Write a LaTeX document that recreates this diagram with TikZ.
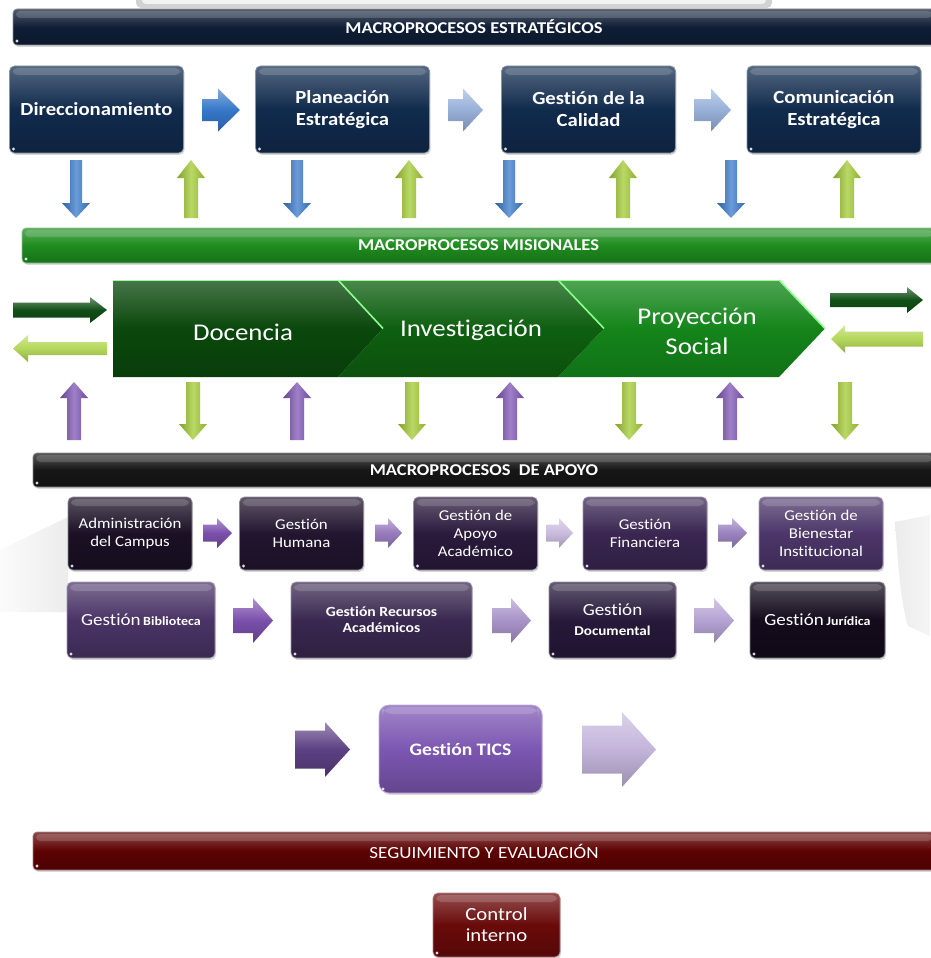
\documentclass[tikz,border=0pt]{standalone}
\usepackage{fontspec}
\setmainfont{Carlito}[FakeStretch=1.12, Ligatures=NoCommon]
\usetikzlibrary{shadows}
\definecolor{navy}{HTML}{112B4D}
\definecolor{stratB}{HTML}{0F1E36}
\definecolor{misB}{HTML}{1E8C1E}
\definecolor{apoB}{HTML}{161616}
\definecolor{segB}{HTML}{5E0202}
\definecolor{chevA}{HTML}{0A480C}
\definecolor{chevB}{HTML}{0E5F10}
\definecolor{chevC}{HTML}{14851A}
\definecolor{blueA}{HTML}{3577C8}
\definecolor{blueL}{HTML}{97B0D8}
\definecolor{blueV}{HTML}{3A7ACC}
\definecolor{greenV}{HTML}{A2CA34}
\definecolor{purpV}{HTML}{7E55B5}
\definecolor{dgA}{HTML}{114F16}
\definecolor{lgA}{HTML}{B4D75A}
\definecolor{cAdm}{HTML}{1B1025}
\definecolor{cHum}{HTML}{22152F}
\definecolor{cApo}{HTML}{2A1A3C}
\definecolor{cFin}{HTML}{3A2651}
\definecolor{cBie}{HTML}{4C3669}
\definecolor{cBib}{HTML}{4A3466}
\definecolor{cRec}{HTML}{3A2850}
\definecolor{cDoc}{HTML}{26193A}
\definecolor{cJur}{HTML}{140B1C}
\definecolor{aOne}{HTML}{7B50AD}
\definecolor{aTwo}{HTML}{977BBD}
\definecolor{aThree}{HTML}{C9BCDD}
\definecolor{aFour}{HTML}{9B83C0}
\definecolor{bOne}{HTML}{7A4FAB}
\definecolor{bTwo}{HTML}{A893C9}
\definecolor{bThree}{HTML}{B4A2D3}
\definecolor{ticsC}{HTML}{7C57B2}
\definecolor{ticsL}{HTML}{5C4083}
\definecolor{ticsR}{HTML}{C3B4DA}
\definecolor{ctrlC}{HTML}{6A0A0A}
\newcommand\myfs[2]{\fontsize{#1}{#2}\selectfont}
\newcommand\myharrow[7]{\path[#7] ({#1},{#3-#4}) -- ({#2-(#6)},{#3-#4}) -- ({#2-(#6)},{#3-#5}) -- ({#2},{#3}) -- ({#2-(#6)},{#3+#5}) -- ({#2-(#6)},{#3+#4}) -- ({#1},{#3+#4}) -- cycle;}
\newcommand\myvarrow[7]{\path[#7] ({#3-#4},{#1}) -- ({#3-#4},{#2-(#6)}) -- ({#3-#5},{#2-(#6)}) -- ({#3},{#2}) -- ({#3+#5},{#2-(#6)}) -- ({#3+#4},{#2-(#6)}) -- ({#3+#4},{#1}) -- cycle;}
\tikzset{
  basebox/.style={rounded corners=5pt, align=center, text=white, inner sep=2pt,
    draw=#1!50!white, line width=0.7pt,
    drop shadow={shadow xshift=1.2pt, shadow yshift=-1.8pt, opacity=.3},
    top color=#1!72!white, bottom color=#1!80!black, middle color=#1},
  gloss/.style={path picture={
    \fill[white,opacity=.16] ([xshift=3pt,yshift=-2pt]path picture bounding box.north west) rectangle ([xshift=-3pt,yshift=-9pt]path picture bounding box.north east);
    \fill[white,opacity=.85] ([xshift=4pt,yshift=4pt]path picture bounding box.south west) circle (1.6pt);}},
  banner/.style={basebox=#1, gloss, rounded corners=4pt, font=\bfseries\myfs{16.5}{20}},
  harr/.style={top color=#1!60!white, bottom color=#1!80!black, middle color=#1},
  varr/.style={left color=#1!80!black, right color=#1!88!black, middle color=#1!75!white},
  chev/.style={top color=#1!75!white, bottom color=#1!85!black, middle color=#1},
  chevhl/.style={draw=green!45!white, line width=1.6pt},
  chevtext/.style={text=white, font=\myfs{24}{30}, align=center},
  bigbox/.style={basebox=#1, gloss, minimum width=174pt, minimum height=87pt, font=\bfseries\myfs{18.5}{22}},
  smallbox/.style={basebox=#1, gloss, minimum width=124pt, minimum height=73pt, font=\myfs{15}{18}},
  midbox/.style={basebox=#1, gloss, minimum height=76pt},
}
\begin{document}
\begin{tikzpicture}[x=1pt,y=-1pt]
\useasboundingbox (0,0) rectangle (930,958);
\fill[white] (0,0) rectangle (930,958);
% faint background shapes
\fill[gray!35, rounded corners=5pt] (136,-10) rectangle (772,8);
\fill[gray!10, rounded corners=4pt] (142,-10) rectangle (766,4);
\shade[left color=gray!3, right color=gray!15] (0,550) -- (68,517) -- (68,612) -- (0,612) -- cycle;
\shade[left color=gray!15, right color=gray!8] (895,522) -- (930,515) -- (930,636) -- (908,626) .. controls (900,600) and (898,560) .. (895,522) -- cycle;

% strategic
\node[banner=stratB, minimum width=922pt, minimum height=36pt] (bstrat) at (474,27) {MACROPROCESOS ESTRATÉGICOS};
\node[bigbox=navy] (dir) at (96.5,109.5) {Direccionamiento};
\node[bigbox=navy] (plan) at (342.5,109.5) {Planeación\\Estratégica};
\node[bigbox=navy] (cal) at (588.5,109.5) {Gestión de la\\Calidad};
\node[bigbox=navy] (com) at (834,109.5) {Comunicación\\Estratégica};
\myharrow{202}{240}{110}{11}{21.5}{22}{harr=blueA}
\myharrow{448}{483}{110}{11}{21.5}{20}{harr=blueL}
\myharrow{694}{731}{110}{11}{21.5}{20}{harr=blueL}
\foreach \x in {76,297,509,731} {\myvarrow{160}{218}{\x}{6}{14}{15}{varr=blueV}}
\foreach \x in {191,409,623,847} {\myvarrow{218}{160}{\x}{7}{14}{-18}{varr=greenV}}

% misionales
\node[banner=misB, minimum width=913pt, minimum height=35pt] (bmis) at (478.5,245.5) {MACROPROCESOS MISIONALES};
\path[chev=chevC] (558,280) -- (779,280) -- (825,328.5) -- (779,377) -- (558,377) -- (604,328.5) -- cycle;
\path[chev=chevB] (338,280) -- (558,280) -- (604,328.5) -- (558,377) -- (338,377) -- (383,328.5) -- cycle;
\path[chev=chevA] (113,280) -- (338,280) -- (383,328.5) -- (338,377) -- (113,377) -- cycle;
\draw[chevhl] (338,280) -- (383,328.5);
\draw[chevhl] (558,280) -- (604,328.5);
\draw[chevhl] (779,280) -- (825,328.5);
\draw[green!40!white, line width=1pt] (113,280.5) -- (779,280.5);
\node[chevtext] (doc) at (243,332) {Docencia};
\node[chevtext] (inv) at (471,330) {Investigación};
\node[chevtext] (proy) at (697,331) {Proyección\\Social};
\myharrow{13}{107}{310}{7.5}{13}{17}{harr=dgA}
\myharrow{107}{13}{348.5}{6.5}{13.5}{-15}{harr=lgA}
\myharrow{830}{923}{300}{7}{13}{16}{harr=dgA}
\myharrow{923}{831}{339}{7.5}{14}{-14}{harr=lgA}
\foreach \x in {74,297,510,730} {\myvarrow{440}{382}{\x}{7}{14}{-16}{varr=purpV}}
\foreach \x in {193,412,629,845} {\myvarrow{382}{440}{\x}{7}{14}{16}{varr=greenV}}

% apoyo
\node[banner=apoB, minimum width=902pt, minimum height=34pt] (bapo) at (484,470) {MACROPROCESOS~~DE APOYO};
\node[smallbox=cAdm] (adm) at (130,533.5) {Administración\\del Campus};
\node[smallbox=cHum] (hum) at (301.5,533.5) {Gestión\\Humana};
\node[smallbox=cApo] (apo) at (475.5,533.5) {Gestión de\\Apoyo\\Académico};
\node[smallbox=cFin] (fin) at (645,533.5) {Gestión\\Financiera};
\node[smallbox=cBie] (bie) at (821,533.5) {Gestión de\\Bienestar\\Institucional};
\myharrow{203}{232}{533}{8.5}{15}{15}{harr=aOne}
\myharrow{375}{402}{533}{8.5}{15}{14}{harr=aTwo}
\myharrow{546}{573}{533}{8.5}{15}{14}{harr=aThree}
\myharrow{718}{747}{533}{8.5}{15}{15}{harr=aFour}

\node[midbox=cBib, minimum width=148pt] (bib) at (141,620) {{\myfs{17}{20}Gestión} {\bfseries\myfs{12.5}{15}Biblioteca}};
\node[midbox=cRec, minimum width=181pt, font=\bfseries\myfs{14}{16}] (rec) at (381.5,620) {Gestión Recursos\\Académicos};
\node[midbox=cDoc, minimum width=127pt, font=\myfs{17}{20}] (docu) at (612.5,620) {Gestión\\{\bfseries\myfs{13.5}{16}Documental}};
\node[midbox=cJur, minimum width=135pt] (jur) at (817.5,620) {{\myfs{17}{20}Gestión} {\bfseries\myfs{12.5}{15}Jurídica}};
\myharrow{233}{273}{620.5}{12.5}{22.5}{20}{harr=bOne}
\myharrow{492}{531}{620.5}{12.5}{22.5}{20}{harr=bTwo}
\myharrow{694}{734}{620.5}{12.5}{22.5}{20}{harr=bThree}

% TICS
\node[basebox=ticsC, gloss, rounded corners=10pt, minimum width=163pt, minimum height=88pt, font=\bfseries\myfs{17.5}{21}] (tics) at (460.5,749) {Gestión TICS};
\myharrow{295}{350}{749.5}{19}{27.5}{25}{harr=ticsL}
\myharrow{582}{656}{749.5}{24}{37.5}{34}{harr=ticsR}

% seguimiento
\node[banner=segB, font=\myfs{17}{20}, minimum width=902pt, minimum height=38pt] (bseg) at (484,851) {SEGUIMIENTO Y EVALUACIÓN};
\node[basebox=ctrlC, gloss, minimum width=127pt, minimum height=64pt, font=\myfs{18.5}{21}] (ctrl) at (496.5,925) {Control\\interno};
\end{tikzpicture}
\end{document}
